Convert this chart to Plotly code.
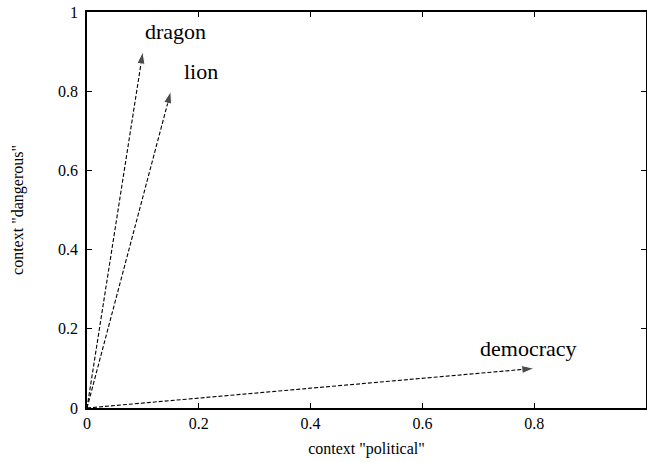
import plotly.graph_objects as go

# Data
words = ["dragon", "lion", "democracy"]
political = [0.1, 0.15, 0.8]
dangerous = [0.9, 0.8, 0.1]
label_x = [0.1, 0.17, 0.7]
label_y = [0.95, 0.85, 0.15]
tick_vals = [0, 0.2, 0.4, 0.6, 0.8, 1]
tick_text = ["0", "0.2", "0.4", "0.6", "0.8", "1"]

FONT = "Liberation Serif"

fig = go.Figure()
for w, px, py in zip(words, political, dangerous):
    fig.add_trace(go.Scatter(
        x=[0, px], y=[0, py], mode="lines+markers", name=w,
        line=dict(color="black", width=1.1, dash="4px,2px"),
        marker=dict(symbol="arrow", size=[0, 13], angleref="previous", color="black"),
        showlegend=False, hoverinfo="skip",
    ))

for w, lx, ly in zip(words, label_x, label_y):
    fig.add_annotation(x=lx, y=ly, xref="x", yref="y", text=w, showarrow=False,
                       xanchor="left", yanchor="middle",
                       font=dict(family=FONT, size=22, color="black"))

axis_common = dict(
    range=[0, 1], tickvals=tick_vals, ticktext=tick_text,
    showgrid=False, zeroline=False, showline=True, linecolor="black", linewidth=1.5,
    mirror="ticks", ticks="inside", ticklen=5, tickcolor="black", tickwidth=1,
    tickfont=dict(family=FONT, size=16, color="black"),
)

fig.update_xaxes(**axis_common,
                 title=dict(text='context "political"', font=dict(family=FONT, size=16, color="black"), standoff=12))
fig.update_yaxes(**axis_common, ticklabelstandoff=4,
                 title=dict(text='context "dangerous"', font=dict(family=FONT, size=16, color="black"), standoff=30))

fig.update_layout(
    width=647, height=462,
    margin=dict(l=87, r=1, t=12, b=54, autoexpand=False),
    plot_bgcolor="white", paper_bgcolor="white",
)

fig.write_html("out.html", config={"displayModeBar": False},
               post_script="document.body.style.margin='0';document.body.style.overflow='hidden';")
